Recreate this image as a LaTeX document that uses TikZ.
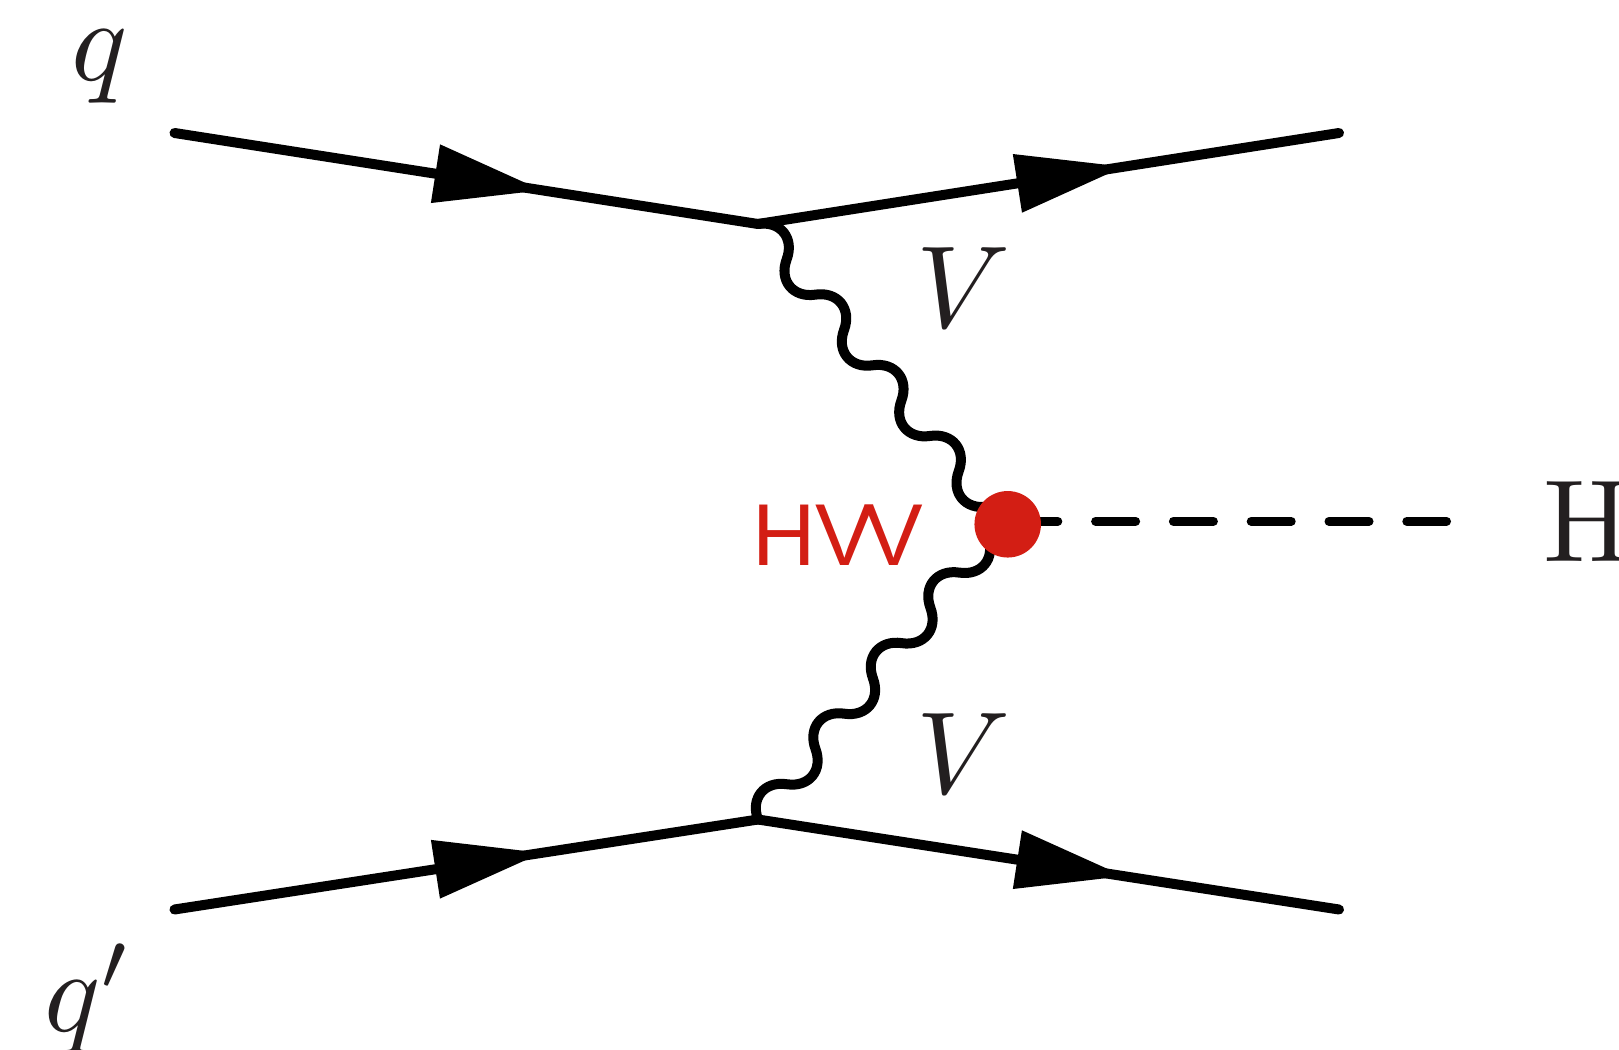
\documentclass[tikz,border=0pt]{standalone}
\usepackage{amsmath, amssymb}
\usepackage{fontspec}
\usepackage{tikz}
\usetikzlibrary{arrows.meta, decorations.markings}

\newfontfamily\couplingfont{Liberation Sans}
\definecolor{dotred}{RGB}{211,30,20}
\definecolor{labelgray}{RGB}{35,31,32}

% Rounder lobes than the snake decoration
\pgfdeclaredecoration{bosonwave}{up}{
  \state{up}[switch if less than=0.905cm to final, width=0.91cm, next state=down]{
    \pgfpathcurveto{\pgfpoint{0.23cm}{0.39cm}}{\pgfpoint{0.68cm}{0.39cm}}{\pgfpoint{0.91cm}{0cm}}
  }
  \state{down}[switch if less than=0.905cm to final, width=0.91cm, next state=up]{
    \pgfpathcurveto{\pgfpoint{0.23cm}{-0.39cm}}{\pgfpoint{0.68cm}{-0.39cm}}{\pgfpoint{0.91cm}{0cm}}
  }
  \state{final}{
    \pgfpathlineto{\pgfpointdecoratedpathlast}
  }
}

\begin{document}
\begin{tikzpicture}[
  line cap=round,
  fermion/.style={line width=0.2cm, postaction={decorate},
    decoration={markings, mark=at position 0.631 with {\arrow{Triangle[length=2.17cm, width=1.13cm]}}}},
  vector/.style={line width=0.2cm, decorate, decoration={bosonwave}},
  scalar/.style={line width=0.18cm, dash pattern=on 0.8cm off 0.756cm},
  particle/.style={scale=6.65, inner sep=0pt, text=labelgray}
]

\useasboundingbox (0,0) rectangle (32.38,20.98);

% Vertices
\coordinate (qin) at (3.49,18.32);
\coordinate (qtop) at (15.16,16.50);
\coordinate (qout) at (26.78,18.32);
\coordinate (qpin) at (3.49,2.79);
\coordinate (qbot) at (15.16,4.59);
\coordinate (qpout) at (26.78,2.79);
\coordinate (vtopend) at (19.77,10.82);
\coordinate (vbotend) at (19.78,10.26);
\coordinate (hstart) at (20.356,10.554);
\coordinate (hend) at (28.93,10.554);

% Quark lines
\draw[fermion] (qin) -- (qtop);
\draw[fermion] (qtop) -- (qout);
\draw[fermion] (qpin) -- (qbot);
\draw[fermion] (qbot) -- (qpout);

% Vector bosons
\draw[vector] (qtop) -- (vtopend);
\draw[vector] (qbot) -- (vbotend);

% Higgs
\draw[scalar] (hstart) -- (hend);

% Coupling
\node[circle, fill=dotred, minimum size=1.33cm, inner sep=0pt] (hvvdot) at (20.154,10.494) {};
\node[inner sep=0pt, text=dotred, font=\couplingfont\fontsize{50}{52}\selectfont] (hvv) at (16.76,10.28) {H\kern-0.01em V\kern-0.11em V};

% Labels
\node[particle, anchor=base] (qlabel) at (1.99,19.37) {$q$};
\node[particle, anchor=base] (qplabel) at (1.78,0.34) {$q'$};
\node[particle, anchor=base] (vtoplabel) at (19.27,14.42) {$V$};
\node[particle, anchor=base] (vbotlabel) at (19.27,5.10) {$V$};
\node[particle, anchor=base] (hlabel) at (31.74,9.74) {$\mathrm{H}$};

\end{tikzpicture}
\end{document}
